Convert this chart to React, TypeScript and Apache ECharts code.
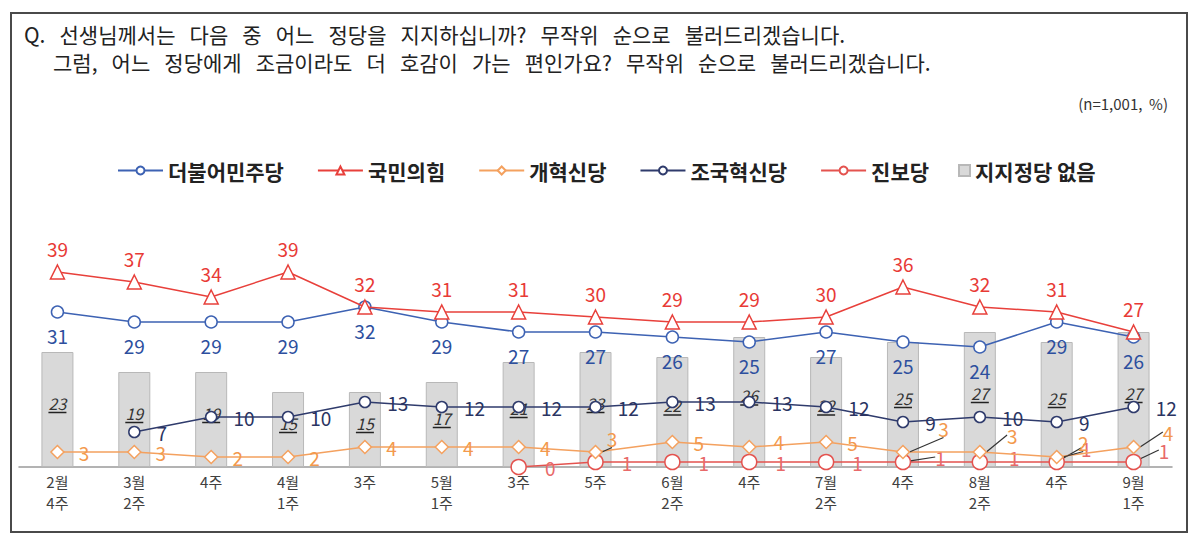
import React, { useEffect, useRef } from "react";
import * as echarts from "echarts";

const categories = [
  "2월\n4주", "3월\n2주", "4주", "4월\n1주", "3주", "5월\n1주", "3주", "5주",
  "6월\n2주", "4주", "7월\n2주", "4주", "8월\n2주", "4주", "9월\n1주",
];
const democratic = [31, 29, 29, 29, 32, 29, 27, 27, 26, 25, 27, 25, 24, 29, 26];
const peoplePower = [39, 37, 34, 39, 32, 31, 31, 30, 29, 29, 30, 36, 32, 31, 27];
const reformParty = [3, 3, 2, 2, 4, 4, 4, 3, 5, 4, 5, 3, 3, 2, 4];
const rebuildingParty = [null, 7, 10, 10, 13, 12, 12, 12, 13, 13, 12, 9, 10, 9, 12];
const progressiveParty = [null, null, null, null, null, null, 0, 1, 1, 1, 1, 1, 1, 1, 1];
const noParty = [23, 19, 19, 15, 15, 17, 21, 23, 22, 26, 22, 25, 27, 25, 27];

const titleLine1 = "Q.   선생님께서는   다음   중   어느   정당을   지지하십니까?   무작위   순으로   불러드리겠습니다.";
const titleLine2 = "그럼,   어느   정당에게   조금이라도   더   호감이   가는   편인가요?   무작위   순으로   불러드리겠습니다.";
const sampleNote = "(n=1,001,  %)";

const FONT = "'Noto Sans CJK KR', 'Noto Sans', sans-serif";

// label nudges (style only) for crowded points, keyed by data index
const reformShift: Record<number, [number, number]> = {
  7: [-10, -14], 9: [3, -6], 11: [14, -24], 12: [6, -17], 13: [0, -15], 14: [8, -15],
};
const progressiveShift: Record<number, [number, number]> = {
  11: [6, -5], 12: [3, -5], 13: [-2, -14], 14: [-1, -12],
};

export default function App() {
  const ref = useRef<HTMLDivElement>(null);
  useEffect(() => {
    if (!ref.current) return;
    const chart = echarts.init(ref.current, undefined, { renderer: "svg" });
    const lineLabel = (color: string, position: string, distance: number) => ({
      show: true,
      position,
      distance,
      color,
      fontSize: 19,
      fontFamily: FONT,
    });
    const withGuides = (values: (number | null)[], shifts: Record<number, [number, number]>) =>
      values.map((v, i) => ({
        value: v,
        labelLine: { show: !!shifts[i] && (Math.abs(shifts[i][0]) + Math.abs(shifts[i][1]) > 10) },
      }));
    const layoutFrom = (shifts: Record<number, [number, number]>) => (params: any) => {
      const s = shifts[params.dataIndex];
      return s ? { dx: s[0], dy: s[1] } : {};
    };
    const guideStyle = { lineStyle: { color: "#333", width: 1.2 }, length2: 0, smooth: false };
    chart.setOption({
      animation: false,
      backgroundColor: "#fff",
      textStyle: { fontFamily: FONT },
      graphic: [
        {
          type: "rect",
          shape: { x: 11, y: 13, width: 1176, height: 519 },
          style: { fill: "none", stroke: "#4a4a4a", lineWidth: 2 },
        },
        {
          type: "text",
          x: 24,
          y: 34,
          style: { text: titleLine1, fontSize: 21, fontFamily: FONT, fill: "#222", verticalAlign: "middle" },
        },
        {
          type: "text",
          x: 53,
          y: 62,
          style: { text: titleLine2, fontSize: 21, fontFamily: FONT, fill: "#222", verticalAlign: "middle" },
        },
        {
          type: "text",
          x: 1168,
          y: 103,
          style: { text: sampleNote, fontSize: 15, fontFamily: FONT, fill: "#333", align: "right", verticalAlign: "middle" },
        },
      ],
      legend: [
        {
          left: 112,
          top: 155,
          itemWidth: 45,
          itemHeight: 10,
          itemGap: 33,
          textStyle: { fontSize: 21, fontWeight: "bold", color: "#222", fontFamily: FONT },
          data: ["더불어민주당", "국민의힘", "개혁신당", "조국혁신당", "진보당"],
        },
        {
          left: 953,
          top: 155,
          itemWidth: 11,
          itemHeight: 11,
          icon: "rect",
          textStyle: { fontSize: 21, fontWeight: "bold", color: "#222", fontFamily: FONT },
          data: ["지지정당 없음"],
        },
      ],
      grid: { left: 19, right: 28, top: 242, bottom: 83 },
      xAxis: {
        type: "category",
        data: categories,
        axisLine: { lineStyle: { color: "#9a9a9a", width: 1.5 } },
        axisTick: { show: false },
        axisLabel: { color: "#404040", fontSize: 15, lineHeight: 21, margin: 4, fontFamily: FONT },
      },
      yAxis: { type: "value", min: 0, max: 45, show: false, splitLine: { show: false } },
      series: [
        {
          name: "지지정당 없음",
          type: "bar",
          data: noParty,
          barWidth: 32,
          itemStyle: { color: "#d9d9d9", borderColor: "#b8b8b8", borderWidth: 1 },
          label: {
            show: true,
            position: "inside",
            offset: [0, -6],
            formatter: (p: any) => `{v|${p.value}}\n{u|}`,
            rich: {
              v: { fontSize: 16, fontStyle: "italic", color: "#333", fontFamily: FONT, lineHeight: 18 },
              u: { width: 18, height: 1.5, backgroundColor: "#222", lineHeight: 2 },
            },
          },
          z: 1,
        },
        {
          name: "진보당",
          type: "line",
          data: withGuides(progressiveParty, progressiveShift),
          symbol: "circle",
          symbolSize: 15,
          color: "#e4534f",
          lineStyle: { color: "#e4534f", width: 1.5 },
          itemStyle: { color: "#fff", borderColor: "#e4534f", borderWidth: 1.5 },
          label: lineLabel("#e86a6a", "right", 18),
          labelLine: guideStyle,
          labelLayout: layoutFrom(progressiveShift),
          z: 3,
        },
        {
          name: "개혁신당",
          type: "line",
          data: withGuides(reformParty, reformShift),
          symbol: "diamond",
          symbolSize: 13,
          color: "#f4a15f",
          lineStyle: { color: "#f4a15f", width: 1.5 },
          itemStyle: { color: "#fff", borderColor: "#f4a15f", borderWidth: 1.5 },
          label: lineLabel("#f3994d", "right", 14),
          labelLine: guideStyle,
          labelLayout: layoutFrom(reformShift),
          z: 4,
        },
        {
          name: "조국혁신당",
          type: "line",
          data: rebuildingParty,
          symbol: "circle",
          symbolSize: 11,
          color: "#2f3b6c",
          lineStyle: { color: "#2f3b6c", width: 1.5 },
          itemStyle: { color: "#fff", borderColor: "#2f3b6c", borderWidth: 1.5 },
          label: lineLabel("#2a3462", "right", 16),
          z: 5,
        },
        {
          name: "더불어민주당",
          type: "line",
          data: democratic,
          symbol: "circle",
          symbolSize: 12,
          color: "#3d62b3",
          lineStyle: { color: "#3d62b3", width: 1.5 },
          itemStyle: { color: "#fff", borderColor: "#3d62b3", borderWidth: 1.5 },
          label: lineLabel("#2d4f9e", "bottom", 7),
          z: 6,
        },
        {
          name: "국민의힘",
          type: "line",
          data: peoplePower,
          symbol: "triangle",
          symbolSize: 14,
          color: "#e8403b",
          lineStyle: { color: "#e8403b", width: 1.5 },
          itemStyle: { color: "#fff", borderColor: "#e8403b", borderWidth: 1.5 },
          label: lineLabel("#e83a36", "top", 6),
          z: 7,
        },
      ],
    });
    return () => chart.dispose();
  }, []);
  return (
    <div
      ref={ref}
      style={{ position: "absolute", left: 0, top: 0, width: 1200, height: 550 }}
    />
  );
}
